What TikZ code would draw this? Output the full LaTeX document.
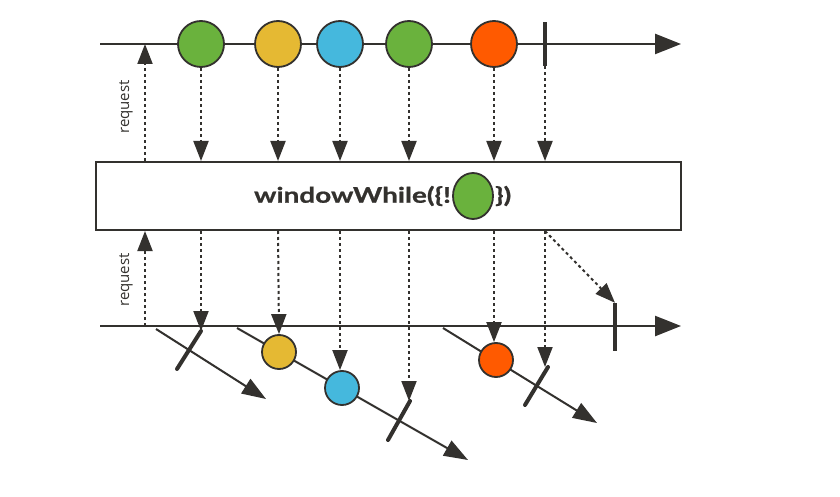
\documentclass[tikz,border=0pt]{standalone}
\usepackage{fontspec}
\setmainfont{Lato}
\newfontfamily\opfont[FakeStretch=1.3,FakeBold=0.8]{Lato}
\newfontfamily\reqfont{Open Sans}
\usetikzlibrary{arrows.meta,positioning,shapes.geometric}
\definecolor{ink}{RGB}{51,49,46}
\definecolor{mgreen}{RGB}{106,178,61}
\definecolor{myellow}{RGB}{229,185,51}
\definecolor{mblue}{RGB}{69,184,221}
\definecolor{morange}{RGB}{255,90,0}
\tikzset{
  axis/.style={draw=ink, line width=2.5pt, -{Triangle[length=26pt,width=20pt]}},
  flow/.style={draw=ink, line width=2pt, dash pattern=on 3pt off 3pt, -{Triangle[length=20pt,width=15pt]}},
  marble/.style={circle, draw=ink, line width=1.8pt, minimum size=46pt, inner sep=0pt},
  smallmarble/.style={marble, minimum size=34pt},
  endmark/.style={rectangle, fill=ink, inner sep=0pt, minimum width=4pt, minimum height=44pt},
  endbar/.style={draw=ink, line width=4pt, line cap=round},
  opbox/.style={rectangle, draw=ink, line width=2pt, fill=white, minimum width=585pt, minimum height=68pt},
  optext/.style={font=\opfont\fontsize{21.5}{21.5}\selectfont\bfseries, text=ink, inner sep=0pt},
  reqlabel/.style={font=\reqfont\fontsize{15}{15}\selectfont, text=ink, rotate=90}
}
\begin{document}
\begin{tikzpicture}[x=1pt,y=-1pt]
  \useasboundingbox (0,0) rectangle (840,497);

  %%%%% source %%%%%
  \coordinate (ax1) at (100,44);
  \draw[axis] (ax1) -- (681,44);
  \node[marble, fill=mgreen]  (s1) at (201,44) {};
  \node[marble, fill=myellow] (s2) at (278,44) {};
  \node[marble, fill=mblue]   (s3) at (340,44) {};
  \node[marble, fill=mgreen]  (s4) at (409,44) {};
  \node[marble, fill=morange] (s5) at (494,44) {};
  \node[endmark] (s6) at (545,44) {};

  %%%%% operator %%%%%
  \node[opbox] (op) at (388.5,196) {};
  \node[ellipse, draw=ink, line width=1.8pt, fill=mgreen, minimum width=40pt, minimum height=46pt, inner sep=0pt] (opm) at (473,196) {};
  \node[optext, left=1pt of opm] (opl) {windowWhile(\{!};
  \node[optext, right=1pt of opm] (opr) {\})};

  \foreach \m in {s1,s2,s3,s4,s5,s6}
    \draw[flow] (\m.south) -- (op.north -| \m);

  \coordinate (req) at (145,0);
  \draw[flow] (op.north -| req) -- (ax1 -| req);
  \node[reqlabel] (rq1) at (126,107) {request};

  %%%%% result %%%%%
  \coordinate (ax2) at (100,326);
  \draw[axis] (ax2) -- (681,326);
  \node[endmark, minimum height=48pt] (e0) at (615,327) {};

  % windows
  \coordinate (w1a) at (156,329);
  \coordinate (w1b) at (266,399);
  \coordinate (w2a) at (237,328);
  \coordinate (w2b) at (468,460);
  \coordinate (w3a) at (443,328);
  \coordinate (w3b) at (597,423);
  \draw[axis, line width=2pt, -{Triangle[length=24pt,width=17pt]}] (w1a) -- (w1b);
  \draw[axis, line width=2pt, -{Triangle[length=24pt,width=17pt]}] (w2a) -- (w2b);
  \draw[axis, line width=2pt, -{Triangle[length=24pt,width=17pt]}] (w3a) -- (w3b);

  \coordinate (c1) at (201,331);
  \coordinate (c2) at (410,401);
  \coordinate (c3) at (548,367);
  \draw[endbar] (177,369) -- (c1);
  \draw[endbar] (388,440) -- (c2);
  \draw[endbar] (525,405) -- (c3);

  \node[smallmarble, fill=myellow] (r2) at (279,352) {};
  \node[smallmarble, fill=mblue]   (r3) at (342,388) {};
  \node[smallmarble, fill=morange] (r5) at (496,360) {};

  \draw[flow] (op.south -| s1) -- (c1);
  \draw[flow] (op.south -| s2) -- (r2.north);
  \draw[flow] (op.south -| s3) -- (r3.north -| s3);
  \draw[flow] (op.south -| s4) -- (c2 -| s4);
  \draw[flow] (op.south -| s5) -- (r5.north -| s5);
  \draw[flow] (op.south -| s6) -- (c3 -| s6);
  \draw[flow] (op.south -| s6) -- (e0.north);

  \draw[flow] (ax2 -| req) -- (op.south -| req);
  \node[reqlabel] (rq2) at (126,280) {request};
\end{tikzpicture}
\end{document}
